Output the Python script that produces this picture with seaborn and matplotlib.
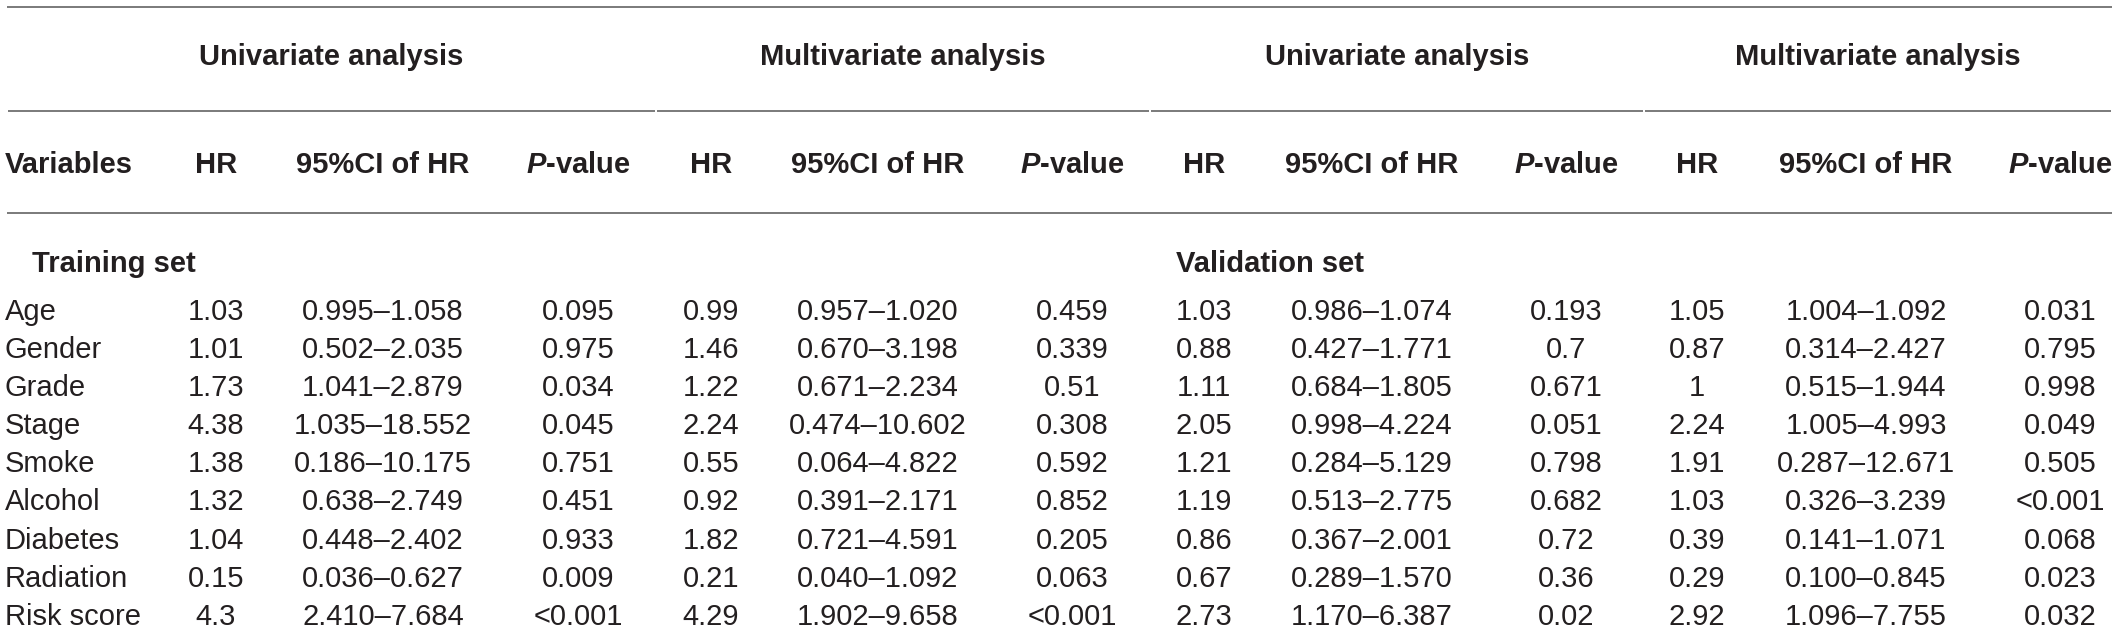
import matplotlib
matplotlib.use('Agg')
import matplotlib.pyplot as plt
import seaborn as sns

# %%

variables = ['Age', 'Gender', 'Grade', 'Stage', 'Smoke', 'Alcohol',
             'Diabetes', 'Radiation', 'Risk score']

train_uni_hr = ['1.03', '1.01', '1.73', '4.38', '1.38', '1.32', '1.04', '0.15', '4.3']
train_uni_ci = ['0.995–1.058', '0.502–2.035', '1.041–2.879', '1.035–18.552', '0.186–10.175',
                '0.638–2.749', '0.448–2.402', '0.036–0.627', '2.410–7.684']
train_uni_p = ['0.095', '0.975', '0.034', '0.045', '0.751', '0.451', '0.933', '0.009', '<0.001']

train_multi_hr = ['0.99', '1.46', '1.22', '2.24', '0.55', '0.92', '1.82', '0.21', '4.29']
train_multi_ci = ['0.957–1.020', '0.670–3.198', '0.671–2.234', '0.474–10.602', '0.064–4.822',
                  '0.391–2.171', '0.721–4.591', '0.040–1.092', '1.902–9.658']
train_multi_p = ['0.459', '0.339', '0.51', '0.308', '0.592', '0.852', '0.205', '0.063', '<0.001']

valid_uni_hr = ['1.03', '0.88', '1.11', '2.05', '1.21', '1.19', '0.86', '0.67', '2.73']
valid_uni_ci = ['0.986–1.074', '0.427–1.771', '0.684–1.805', '0.998–4.224', '0.284–5.129',
                '0.513–2.775', '0.367–2.001', '0.289–1.570', '1.170–6.387']
valid_uni_p = ['0.193', '0.7', '0.671', '0.051', '0.798', '0.682', '0.72', '0.36', '0.02']

valid_multi_hr = ['1.05', '0.87', '1', '2.24', '1.91', '1.03', '0.39', '0.29', '2.92']
valid_multi_ci = ['1.004–1.092', '0.314–2.427', '0.515–1.944', '1.005–4.993', '0.287–12.671',
                  '0.326–3.239', '0.141–1.071', '0.100–0.845', '1.096–7.755']
valid_multi_p = ['0.031', '0.795', '0.998', '0.049', '0.505', '<0.001', '0.068', '0.023', '0.032']

group_titles = ['Univariate analysis', 'Multivariate analysis',
                'Univariate analysis', 'Multivariate analysis']
col_titles = ['HR', '95%CI of HR', r'$\mathit{P}$-value']
section_titles = ['Training set', 'Validation set']

# %%

sns.set_theme(style='white')
plt.rcParams['font.family'] = ['Liberation Sans', 'DejaVu Sans']
plt.rcParams['mathtext.fontset'] = 'custom'
plt.rcParams['mathtext.it'] = 'Liberation Sans:italic:bold'
plt.rcParams['mathtext.rm'] = 'Liberation Sans:bold'

W, H = 2118, 636
fig = plt.figure(figsize=(W / 100, H / 100), dpi=100)
ax = fig.add_axes([0, 0, 1, 1])
ax.set_xlim(0, W)
ax.set_ylim(H, 0)
ax.axis('off')

ink = '#231f20'
rule = '#6f6f6f'
fs = 21

col_x = [216, 383, 578, 711, 878, 1072, 1204, 1372, 1566, 1697, 1866, 2060]
seg_edges = [7, 656, 1150, 1644, 2112]
y_top, y_group, y_mid, y_head, y_rule = 7, 57, 111, 165, 213
y_section = 264
y_rows = [312 + 38.1 * i for i in range(len(variables))]

# rules
ax.hlines(y_top, seg_edges[0], seg_edges[-1], color=rule, lw=1.3)
for a, b in zip(seg_edges[:-1], seg_edges[1:]):
    ax.hlines(y_mid, a + 1, b - 1, color=rule, lw=1.3)
ax.hlines(y_rule, seg_edges[0], seg_edges[-1], color=rule, lw=1.3)

# group titles
for i, t in enumerate(group_titles):
    cx = (seg_edges[i] + seg_edges[i + 1]) / 2
    ax.text(cx, y_group, t, ha='center', va='center', fontsize=fs,
            fontweight='bold', color=ink)

# column titles
ax.text(5, y_head, 'Variables', ha='left', va='center', fontsize=fs,
        fontweight='bold', color=ink)
for i, x in enumerate(col_x):
    ax.text(x, y_head, col_titles[i % 3], ha='center', va='center',
            fontsize=fs, fontweight='bold', color=ink)

# section titles
ax.text(32, y_section, section_titles[0], ha='left', va='center', fontsize=fs,
        fontweight='bold', color=ink)
ax.text(1176, y_section, section_titles[1], ha='left', va='center', fontsize=fs,
        fontweight='bold', color=ink)

# body
columns = [train_uni_hr, train_uni_ci, train_uni_p,
           train_multi_hr, train_multi_ci, train_multi_p,
           valid_uni_hr, valid_uni_ci, valid_uni_p,
           valid_multi_hr, valid_multi_ci, valid_multi_p]
for r, (name, y) in enumerate(zip(variables, y_rows)):
    ax.text(5, y, name, ha='left', va='center', fontsize=fs, color=ink)
    for x, col in zip(col_x, columns):
        ax.text(x, y, col[r], ha='center', va='center', fontsize=fs, color=ink)

fig.savefig('out.png', dpi=100)
